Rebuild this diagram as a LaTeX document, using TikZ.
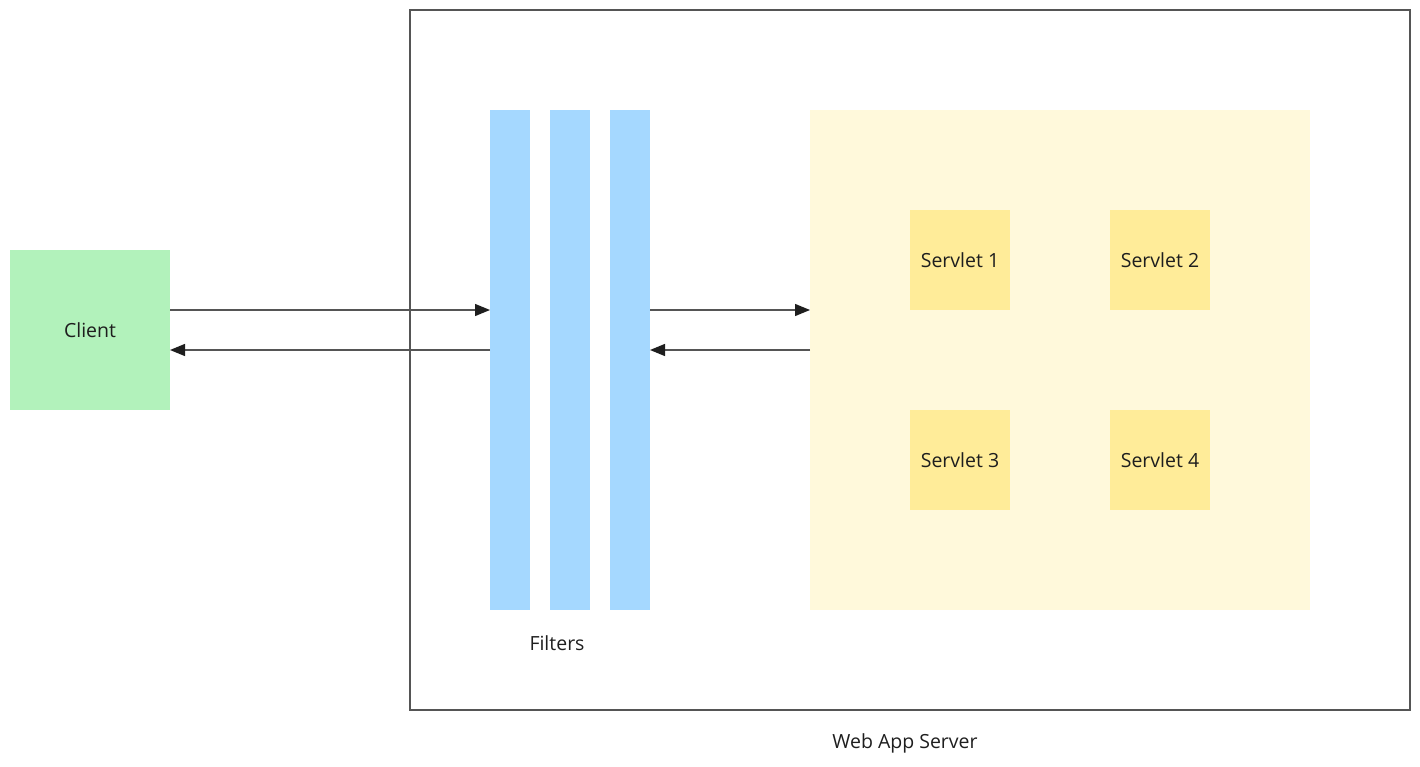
\documentclass[tikz,border=0pt]{standalone}
\usepackage{fontspec}
\setmainfont{Open Sans}
\usepackage{tikz}
\usetikzlibrary{arrows.meta,positioning,calc}
\definecolor{clientgreen}{HTML}{B2F2BB}
\definecolor{filterblue}{HTML}{A5D8FF}
\definecolor{poolyellow}{HTML}{FFF9DB}
\definecolor{servletyellow}{HTML}{FFEC99}
\definecolor{linegray}{HTML}{555555}
\definecolor{ink}{HTML}{1E1E1E}

\begin{document}
\begin{tikzpicture}[x=1pt,y=-1pt,
    every node/.style={inner sep=0pt,outer sep=0pt,text=ink,font=\fontsize{19.5}{22}\selectfont},
    client/.style={fill=clientgreen,minimum width=160pt,minimum height=160pt},
    filterbar/.style={fill=filterblue,minimum width=40pt,minimum height=500pt},
    servlet/.style={fill=servletyellow,minimum width=100pt,minimum height=100pt},
    flow/.style={draw=linegray,line width=1.3pt,-{Triangle[length=15pt,width=12pt,color=ink]}}]
    \useasboundingbox (0,0) rectangle (1420,767);
    \node [draw=linegray,line width=1.4pt,minimum width=1000pt,minimum height=700pt] (server) at (910,360) {};
    \node (serverlabel) at (905,743) {Web App Server};
    \node [client] (client) at (90,330) {Client};
    \node [filterbar] (fa) at (510,360) {};
    \node [filterbar] (fb) at (570,360) {};
    \node [filterbar] (fc) at (630,360) {};
    \node (filterlabel) at (557,643) {Filters};
    \node [fill=poolyellow,minimum width=500pt,minimum height=500pt] (pool) at (1060,360) {};
    \node [servlet] (s1) at (960,260) {Servlet 1};
    \node [servlet] (s2) at (1160,260) {Servlet 2};
    \node [servlet] (s3) at (960,460) {Servlet 3};
    \node [servlet] (s4) at (1160,460) {Servlet 4};

    % request and response
    \draw [flow] ([yshift=20pt]client.east) -- ([yshift=50pt]fa.west);
    \draw [flow] ([yshift=10pt]fa.west) -- ([yshift=-20pt]client.east);
    \draw [flow] ([yshift=50pt]fc.east) -- ([yshift=50pt]pool.west);
    \draw [flow] ([yshift=10pt]pool.west) -- ([yshift=10pt]fc.east);
\end{tikzpicture}
\end{document}
